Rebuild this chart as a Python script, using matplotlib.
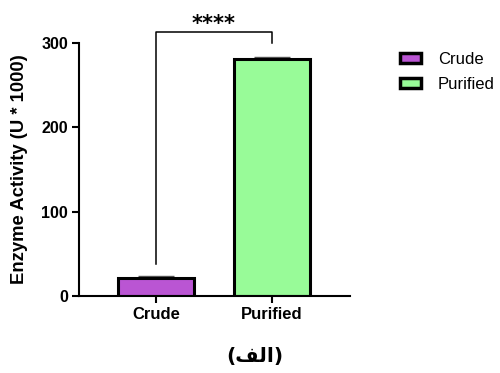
import numpy as np
import matplotlib.pyplot as plt

plt.rcParams['font.family'] = ['Liberation Sans', 'DejaVu Sans']

# --- data ---
groups = ['Crude', 'Purified']
activity = [21.5, 280.5]
err_up = [2.0, 2.5]
colors = ['#BA55D3', '#98FB98']
yticks = [0, 100, 200, 300]
sig_label = '****'
# "(الف)" written in presentation forms, visual order (no shaping in matplotlib)
caption = '(\uFED2\uFEDF\uFE8D)'

fig = plt.figure(figsize=(5, 3.73), dpi=100)
ax = fig.add_axes([0.158, 0.2064, 0.542, 0.6783])

x = np.arange(len(groups))
ax.bar(x, activity, width=0.655, color=colors, edgecolor='black', linewidth=2.2,
       zorder=2)
ax.errorbar(x, activity, yerr=[[0] * len(x), err_up], fmt='none',
            ecolor='#555555', elinewidth=1, capsize=13, capthick=1, zorder=1)

ax.set_xlim(-0.664, 1.672)
ax.set_ylim(0, 300)
ax.set_yticks(yticks)
ax.set_yticklabels([str(t) for t in yticks], fontweight='bold', fontsize=11.5)
ax.set_xticks(x)
ax.set_xticklabels(groups, fontweight='bold', fontsize=12)
ax.tick_params(axis='both', direction='out', length=5, width=1.5, pad=3)
ax.spines['top'].set_visible(False)
ax.spines['right'].set_visible(False)
for s in ['left', 'bottom']:
    ax.spines[s].set_linewidth(1.5)
ax.set_ylabel('Enzyme Activity (U * 1000)', fontweight='bold', fontsize=13.3)
ax.yaxis.set_label_coords(-0.19, 0.5)

# significance bracket
ax.plot([0, 0, 1, 1], [38, 313, 313, 300], color='black', lw=1.1,
        clip_on=False)
ax.text(0.5, 322, sig_label, ha='center', va='center', fontweight='bold',
        fontsize=15, family=['DejaVu Sans'])

# legend
handles = [plt.Rectangle((0, 0), 1, 1, facecolor=c, edgecolor='black',
                         linewidth=2.5) for c in colors]
fig.legend(handles, groups, loc='upper left', bbox_to_anchor=(0.776, 0.892),
           frameon=False, fontsize=12, handlelength=1.3, handleheight=0.55,
           handletextpad=1.0, labelspacing=0.6, borderaxespad=0.3)

fig.text(0.51, 0.043, caption, ha='center', va='center', fontsize=14.5,
         fontweight='bold', family=['DejaVu Sans'])

plt.savefig('out.png', dpi=100)
